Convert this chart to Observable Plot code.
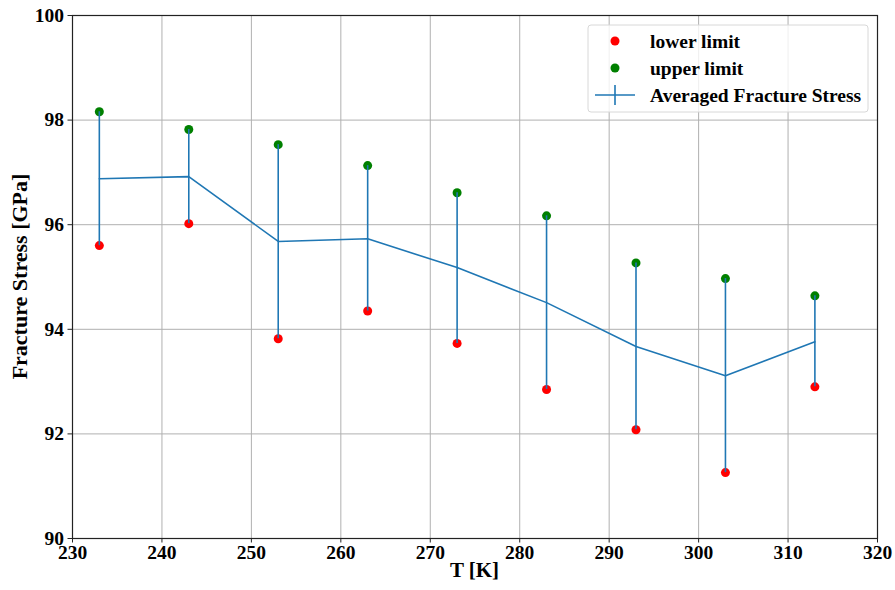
<!DOCTYPE html>
<html>
<head>
<meta charset="utf-8">
<script src="https://cdn.jsdelivr.net/npm/d3@7"></script>
<script src="https://cdn.jsdelivr.net/npm/@observablehq/plot@0.6"></script>
<style>
  html, body { margin: 0; padding: 0; background: #fff; }
  #chart svg { display: block; }
</style>
</head>
<body>
<div id="chart"></div>
<script>
const temperatures = [233, 243, 253, 263, 273, 283, 293, 303, 313];
const lowerLimit = [95.60, 96.02, 93.82, 94.35, 93.73, 92.85, 92.08, 91.26, 92.90];
const upperLimit = [98.16, 97.82, 97.53, 97.13, 96.61, 96.17, 95.27, 94.97, 94.64];
const averagedStress = [96.88, 96.92, 95.68, 95.73, 95.18, 94.51, 93.67, 93.11, 93.76];
const xTicks = [230, 240, 250, 260, 270, 280, 290, 300, 310, 320];
const yTicks = [90, 92, 94, 96, 98, 100];
const legendLabels = ["lower limit", "upper limit", "Averaged Fracture Stress"];

const data = temperatures.map((t, i) => ({
  T: t, lower: lowerLimit[i], upper: upperLimit[i], avg: averagedStress[i]
}));

const W = 895, H = 590;
const mL = 72, mR = 18, mT = 15, mB = 52;
const font = "'Liberation Serif', 'Times New Roman', serif";

const plot = Plot.plot({
  width: W, height: H,
  marginLeft: mL, marginRight: mR, marginTop: mT, marginBottom: mB,
  style: { fontFamily: font, fontWeight: "bold", fontSize: "19px", color: "black", background: "white" },
  x: { domain: [230, 320] },
  y: { domain: [90, 100] },
  marks: [
    Plot.gridX(xTicks, { stroke: "#b0b0b0", strokeOpacity: 1, strokeWidth: 1 }),
    Plot.gridY(yTicks, { stroke: "#b0b0b0", strokeOpacity: 1, strokeWidth: 1 }),
    Plot.dot(data, { x: "T", y: "lower", r: 4.5, fill: "red", stroke: "none" }),
    Plot.dot(data, { x: "T", y: "upper", r: 4.5, fill: "green", stroke: "none" }),
    Plot.ruleX(data, { x: "T", y1: "lower", y2: "upper", stroke: "#1f77b4", strokeWidth: 1.6 }),
    Plot.line(data, { x: "T", y: "avg", stroke: "#1f77b4", strokeWidth: 1.6 }),
    Plot.frame({ stroke: "#222", strokeWidth: 1.2 }),
    Plot.axisX(xTicks, { tickSize: 4.5, tickPadding: 2, label: null, tickFormat: d => String(d), fontFamily: font, fontSize: 19.5, fontWeight: "bold", stroke: "#222" }),
    Plot.axisY(yTicks, { tickSize: 4.5, tickPadding: 4, label: null, tickFormat: d => String(d), fontFamily: font, fontSize: 19.5, fontWeight: "bold", stroke: "#222" })
  ]
});

document.getElementById("chart").appendChild(plot);

const svg = d3.select(plot);
// axis labels
svg.append("text")
  .attr("x", mL + (W - mL - mR) / 2).attr("y", 577)
  .attr("text-anchor", "middle")
  .style("font-family", font).style("font-weight", "bold").style("font-size", "21px")
  .text("T [K]");
svg.append("text")
  .attr("transform", `translate(27, ${mT + (H - mT - mB) / 2}) rotate(-90)`)
  .attr("text-anchor", "middle")
  .style("font-family", font).style("font-weight", "bold").style("font-size", "22px")
  .text("Fracture Stress [GPa]");

// legend
const lg = svg.append("g").attr("text-anchor", "start");
const lx = 588, ly = 25, lw = 280, lh = 87;
lg.append("rect").attr("x", lx).attr("y", ly).attr("width", lw).attr("height", lh)
  .attr("rx", 3).attr("fill", "white").attr("fill-opacity", 0.8)
  .attr("stroke", "#d8d8d8").attr("stroke-width", 1);
const rows = [ly + 16, ly + 43, ly + 70];
lg.append("circle").attr("cx", lx + 27).attr("cy", rows[0]).attr("r", 4.5).attr("fill", "red");
lg.append("circle").attr("cx", lx + 27).attr("cy", rows[1]).attr("r", 4.5).attr("fill", "green");
lg.append("line").attr("x1", lx + 7).attr("x2", lx + 47).attr("y1", rows[2]).attr("y2", rows[2])
  .attr("stroke", "#1f77b4").attr("stroke-width", 1.6);
lg.append("line").attr("x1", lx + 27).attr("x2", lx + 27).attr("y1", rows[2] - 10).attr("y2", rows[2] + 10)
  .attr("stroke", "#1f77b4").attr("stroke-width", 1.6);
legendLabels.forEach((s, i) => {
  lg.append("text").attr("x", lx + 62).attr("y", rows[i]).attr("dy", "0.35em")
    .attr("text-anchor", "start")
    .style("font-family", font).style("font-weight", "bold").style("font-size", "19.5px")
    .text(s);
});
</script>
</body>
</html>
